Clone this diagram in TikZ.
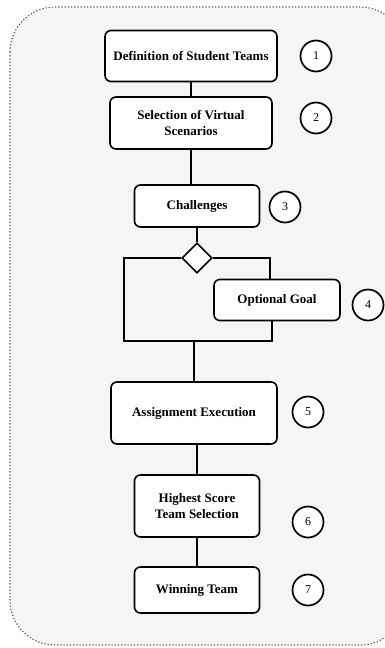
\documentclass[tikz,border=0pt]{standalone}
\usepackage{fontspec}
\setmainfont{Liberation Serif}
\usetikzlibrary{shapes.geometric}
\begin{document}
\begin{tikzpicture}
[x=1pt, y=-1pt, font=\fontsize{13}{16}\selectfont\bfseries]
\tikzstyle{block}=[draw, line width=1.6pt, rounded corners=6pt, fill=white, align=center, inner sep=2pt]
\tikzstyle{num}=[circle, draw, line width=1.7pt, fill=white, minimum size=31pt, inner sep=0pt, font=\fontsize{12}{14}\selectfont]
\tikzstyle{link}=[line width=2.8pt]
\useasboundingbox (0,0) rectangle (385,648);
\clip (0,0) rectangle (385,648);
\draw[dotted, line width=1.2pt, gray!70!black, fill=black!4, rounded corners=45pt] (10,7) rectangle (405,645);

\node[block, minimum width=172pt, minimum height=51pt]	(B1)	at (191,56)	{Definition of Student Teams};
\node[block, minimum width=162pt, minimum height=52pt]	(B2)	at (191,123)	{Selection of Virtual\\Scenarios};
\node[block, minimum width=125pt, minimum height=42pt]	(B3)	at (197,206)	{Challenges};
\node[diamond, draw, line width=1.6pt, fill=white, minimum width=30pt, minimum height=30pt, inner sep=0pt]	(D)	at (197,258)	{};
\node[block, minimum width=126pt, minimum height=41pt]	(B4)	at (277,300)	{Optional Goal};
\node[block, minimum width=166pt, minimum height=62pt]	(B5)	at (194,413)	{Assignment Execution};
\node[block, minimum width=125pt, minimum height=62pt]	(B6)	at (197,506)	{Highest Score\\Team Selection};
\node[block, minimum width=125pt, minimum height=46pt]	(B7)	at (197,590)	{Winning Team};

\node[num]	(N1)	at (316,56)	{1};
\node[num]	(N2)	at (316,118)	{2};
\node[num]	(N3)	at (285,207)	{3};
\node[num]	(N4)	at (368,305)	{4};
\node[num]	(N5)	at (308,412)	{5};
\node[num]	(N6)	at (308,522)	{6};
\node[num]	(N7)	at (308,590)	{7};

\coordinate (L1) at (124,258);
\coordinate (L2) at (124,341);
\coordinate (R1) at (270,258);
\coordinate (R2) at (272,341);
\coordinate (J)  at (194,341);

\draw[link] (B1) -- (B2);
\draw[link] (B2.south) -- (B2.south |- B3.north);
\draw[link] (B3) -- (D);
\draw[link] (D.west) -- (L1) -- (L2) -- (R2) -- (R2 |- B4.south);
\draw[link] (D.east) -- (R1) -- (R1 |- B4.north);
\draw[link] (J) -- (J |- B5.north);
\draw[link] (B5.south -| B6.north) -- (B6.north);
\draw[link] (B6) -- (B7);
\end{tikzpicture}
\end{document}
